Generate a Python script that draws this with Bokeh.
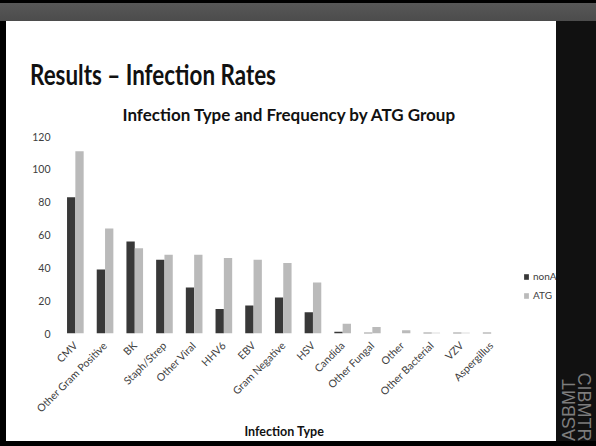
import math
from bokeh.plotting import figure
from bokeh.layouts import column, row
from bokeh.models import (ColumnDataSource, Legend, LegendItem, Range1d, Div, Title,
                          FixedTicker)
from bokeh.transform import dodge
from bokeh.embed import file_html
from bokeh.resources import INLINE

# ---- data ----
categories = ["CMV", "Other Gram Positive", "BK", "Staph/Strep", "Other Viral", "HHV6",
              "EBV", "Gram Negative", "HSV", "Candida", "Other Fungal", "Other",
              "Other Bacterial", "VZV", "Aspergillus"]
non_atg = [83, 39, 56, 45, 28, 15, 17, 22, 13, 1, 0.5, 0, 0.5, 0.5, 0.5]
atg = [111, 64, 52, 48, 48, 46, 45, 43, 31, 6, 4, 2, 0.5, 0.5, 0]
y_ticks = [0, 20, 40, 60, 80, 100, 120]
series_names = ["nonATG", "ATG"]

slide_title = "Results \u2013 Infection Rates"
chart_title = "Infection Type and Frequency by ATG Group"
x_title = "Infection Type"

DARK = "#383838"
LIGHT = "#bababa"
TXT = "#404040"
FONT = "Lato"

idx = list(range(len(categories)))
src = ColumnDataSource(dict(x=idx, cat=categories, non_atg=non_atg, atg=atg))

# room on the right of the last category for the legend (in category widths)
LEGEND_ROOM = 1.7

# ---- main chart ----
p = figure(width=550, height=360,
           x_range=Range1d(-0.5, len(categories) - 0.5 + LEGEND_ROOM), y_range=(0, 120),
           output_backend="svg", toolbar_location=None,
           min_border_left=54, min_border_right=0, min_border_top=55, min_border_bottom=108,
           background_fill_color="white", border_fill_color="white")
p.outline_line_color = None
p.xgrid.grid_line_color = None
p.ygrid.grid_line_color = None

p.title.text = chart_title
p.title.align = "left"
p.title.offset = 62
p.title.standoff = 24
p.title.text_font = FONT
p.title.text_font_size = "17px"
p.title.text_font_style = "bold"
p.title.text_color = "#111111"

r1 = p.vbar(x=dodge("x", -0.14), top="non_atg", width=0.28, source=src,
            fill_color=DARK, line_color=None)
r2 = p.vbar(x=dodge("x", 0.14), top="atg", width=0.28, source=src,
            fill_color=LIGHT, line_color=None)

p.yaxis.ticker = y_ticks
p.yaxis.axis_line_color = None
p.yaxis.major_tick_line_color = None
p.yaxis.minor_tick_line_color = None
p.yaxis.major_tick_out = 0
p.yaxis.major_tick_in = 0
p.yaxis.major_label_standoff = 10
p.yaxis.major_label_text_font = FONT
p.yaxis.major_label_text_font_size = "10.5px"
p.yaxis.major_label_text_color = TXT

p.xaxis.ticker = FixedTicker(ticks=idx)
p.xaxis.major_label_overrides = {i: c for i, c in zip(idx, categories)}
p.xaxis.axis_line_color = None
p.xaxis.major_tick_line_color = None
p.xaxis.minor_tick_line_color = None
p.xaxis.major_tick_out = 0
p.xaxis.major_tick_in = 0
p.xaxis.major_label_standoff = 10
p.xaxis.major_label_orientation = math.pi / 4
p.xaxis.major_label_text_font = FONT
p.xaxis.major_label_text_font_size = "10.5px"
p.xaxis.major_label_text_color = TXT

p.add_layout(Title(text=x_title, align="left", offset=184, standoff=0,
                   text_font=FONT, text_font_size="12.5px", text_font_style="bold",
                   text_color="#111111"), "below")

legend = Legend(items=[LegendItem(label=series_names[0], renderers=[r1]),
                       LegendItem(label=series_names[1], renderers=[r2])],
                location=(463, 31), orientation="vertical",
                glyph_width=6, glyph_height=7, label_height=14, label_width=10,
                spacing=5, padding=0, margin=0, label_standoff=4,
                label_text_font=FONT, label_text_font_size="10px", label_text_color=TXT,
                border_line_color=None, background_fill_alpha=0)
p.add_layout(legend, "center")

# ---- slide decoration ----
title_div = Div(width=550, height=60, margin=0,
                text=('<div style="position:relative;width:550px;height:60px;background:#fff;">'
                      '<div style="position:absolute;left:24px;top:39px;white-space:nowrap;'
                      'font-family:Lato;font-weight:bold;font-size:28px;line-height:28px;'
                      'color:#111;transform-origin:left top;transform:scaleX(0.8);">'
                      + slide_title + '</div></div>'),
                styles={"background-color": "white", "overflow": "visible", "z-index": "1"})

top_div = Div(width=596, height=21, margin=0, text="",
              styles={"background": "linear-gradient(to bottom, #000 0px, #000 3px, #575757 3px, #4c4c4c 21px)"})
left_div = Div(width=6, height=420, margin=0, text="", styles={"background-color": "#000"})
bottom_div = Div(width=596, height=5, margin=0, text="", styles={"background-color": "#000"})
strip_div = Div(width=40, height=420, margin=0,
                text=('<div style="position:relative;width:40px;height:420px;background:#111;overflow:hidden;">'
                      '<div style="position:absolute;left:28px;top:386px;transform:translate(-50%,-50%) rotate(90deg);'
                      'font-family:\'Liberation Sans\';font-size:18px;line-height:18px;color:#7d7d7d;white-space:nowrap;">'
                      'CIBMTR</div>'
                      '<div style="position:absolute;left:13px;top:389px;transform:translate(-50%,-50%) rotate(-90deg);'
                      'font-family:\'Liberation Sans\';font-size:18px;line-height:18px;color:#7d7d7d;white-space:nowrap;">'
                      'ASBMT</div></div>'),
                styles={"background-color": "#111"})

layout = column(top_div,
                row(left_div, column(title_div, p, spacing=0), strip_div, spacing=0),
                bottom_div, spacing=0)

with open("out.html", "w") as f:
    f.write(file_html(layout, INLINE))
